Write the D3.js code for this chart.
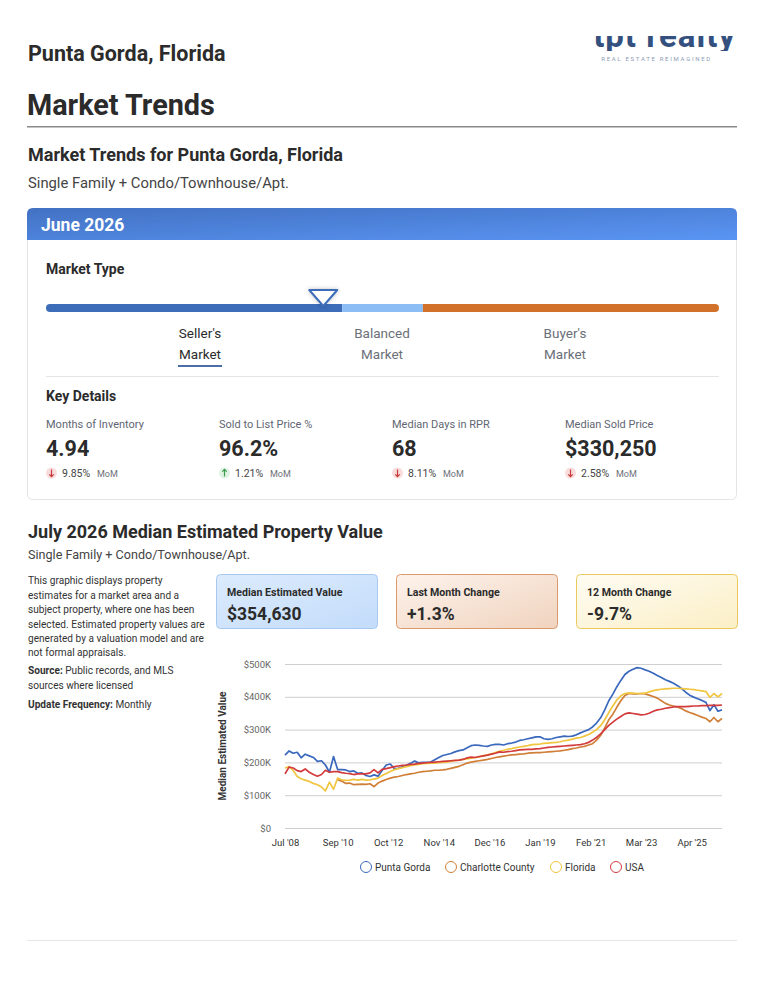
<!DOCTYPE html>
<html>
<head>
<meta charset="utf-8">
<script src="https://cdn.jsdelivr.net/npm/d3@7"></script>
<style>
  html, body { margin: 0; padding: 0; background: #fff; }
  svg { display: block; font-family: Roboto, "Noto Sans", sans-serif; }
</style>
</head>
<body>
<svg id="page" width="765" height="990"></svg>
<script>
// values in $K, one point every second month, Jul 2008 .. Jul 2026
const startMonth = new Date(2008, 6, 1);
const stepMonths = 2;

const puntaGorda = [
  222, 235, 228, 231, 214, 225, 220, 215, 203, 205, 192, 170, 218, 178, 178, 177, 172, 174, 167,
  168, 160, 157, 162, 158, 175, 192, 195, 181, 182, 187, 191, 197, 204, 199, 200, 200, 201,
  208, 215, 221, 224, 227, 232, 236, 238, 245, 251, 253, 252, 250, 249, 253, 255, 255, 253,
  257, 259, 262, 267, 269, 272, 275, 278, 278, 272, 270, 272, 276, 278, 280, 279, 280, 284,
  290, 295, 300, 308, 320, 336, 360, 388, 408, 430, 450, 468, 478, 484, 489, 487, 482, 478,
  472, 465, 459, 452, 447, 441, 434, 425, 414, 405, 399, 394, 389, 383, 358, 376, 356, 360
];
const charlotteCounty = [
  null, null, null, null, null, null, null, null, null, null, null, null, null,
  147, 143, 136, 137, 132, 133, 134, 133, 135, 126, 137, 143, 148, 152, 155, 157, 160, 163,
  165, 167, 170, 172, 173, 174,
  176, 176, 177, 179, 182, 185, 188, 193, 198, 201, 203, 205, 207, 209, 212, 215, 217, 219,
  221, 223, 224, 225, 226, 228, 229, 230, 230, 231, 232, 233, 234, 235, 237, 239, 242, 244,
  247, 249, 253, 257, 268, 282, 305, 330, 347, 368, 388, 404, 410, 409, 409, 410, 409, 405,
  401, 396, 388, 380, 375, 372, 369, 364, 357, 352, 348, 343, 338, 334, 324, 337, 324, 334
];
const florida = [
  183, 187, 175, 157, 150, 146, 142, 136, 132, 125, 113, 140, 118, 152, 147, 145, 146, 148, 146,
  148, 146, 147, 149, 152, 160, 166, 172, 178, 181, 184, 187, 190, 192, 194, 196, 197, 198,
  198, 199, 200, 201, 203, 205, 207, 209, 211, 213, 215, 217, 220, 223, 226, 230, 234, 237,
  240, 242, 245, 247, 249, 251, 254, 255, 256, 258, 259, 260, 261, 263, 266, 268, 271, 274,
  276, 280, 285, 292, 300, 312, 330, 352, 372, 390, 403, 410, 412, 411, 410, 410, 411, 415,
  419, 421, 423, 424, 425, 426, 426, 425, 424, 423, 422, 420, 418, 416, 398, 410, 400, 410
];
const usa = [
  165, 186, 183, 175, 172, 180, 170, 163, 158, 163, 176, 170, 172, 172, 169, 167, 166, 163, 165,
  165, 165, 168, 178, 168, 179, 181, 184, 187, 189, 191, 192, 194, 195, 197, 198, 199, 200,
  201, 202, 203, 204, 205, 206, 207, 209, 214, 216, 215, 218, 220, 222, 225, 228, 232, 231,
  233, 234, 236, 238, 239, 240, 240, 241, 242, 244, 246, 247, 248, 249, 250, 251, 252, 253,
  254, 257, 261, 268, 276, 287, 300, 313, 323, 332, 340, 348, 351, 349, 347, 345, 346, 350,
  356, 360, 362, 365, 367, 369, 370, 370, 370, 371, 372, 372, 373, 373, 374, 374, 374, 375
];

const seriesNames = ['Punta Gorda', 'Charlotte County', 'Florida', 'USA'];
const seriesColors = ['#3a68bd', '#d07f38', '#f0c540', '#d23a3b'];
const seriesValues = [puntaGorda, charlotteCounty, florida, usa];

const xTickDates = [
  new Date(2008, 6, 1), new Date(2010, 8, 1), new Date(2012, 9, 1), new Date(2014, 10, 1),
  new Date(2016, 11, 1), new Date(2019, 0, 1), new Date(2021, 1, 1), new Date(2023, 2, 1),
  new Date(2025, 3, 1)
];
const yTicks = [0, 100, 200, 300, 400, 500];

const marketLabels = [["Seller's", 'Market'], ['Balanced', 'Market'], ["Buyer's", 'Market']];
const marketStops = [0, 0.44, 0.56, 1];
const marketColors = ['#3d6cb9', '#8dbdf5', '#d2722a'];
const marketPosition = 0.412;

const keyLabels = ['Months of Inventory', 'Sold to List Price %', 'Median Days in RPR', 'Median Sold Price'];
const keyValues = ['4.94', '96.2%', '68', '$330,250'];
const keyChanges = ['9.85%', '1.21%', '8.11%', '2.58%'];
const keyUp = [false, true, false, false];

const cardLabels = ['Median Estimated Value', 'Last Month Change', '12 Month Change'];
const cardValues = ['$354,630', '+1.3%', '-9.7%'];

const svg = d3.select('#page');
const defs = svg.append('defs');

function grad(id, c0, c1) {
  const g = defs.append('linearGradient').attr('id', id)
    .attr('x1', '0%').attr('y1', '0%').attr('x2', '100%').attr('y2', '100%');
  g.append('stop').attr('offset', '0%').attr('stop-color', c0);
  g.append('stop').attr('offset', '100%').attr('stop-color', c1);
}
grad('hdr', '#4271c2', '#5a95f4');
grad('card0', '#dcebfd', '#c3dcfb');
grad('card1', '#fdf3ec', '#f0d3be');
grad('card2', '#fffcf3', '#fbefc6');
defs.append('filter').attr('id', 'shadow').attr('x', '-50%').attr('y', '-50%').attr('width', '200%').attr('height', '200%')
  .append('feDropShadow').attr('dx', 0).attr('dy', 0).attr('stdDeviation', 2).attr('flood-color', '#000').attr('flood-opacity', 0.25);
defs.append('clipPath').attr('id', 'logoClip')
  .append('rect').attr('x', 570).attr('y', 36).attr('width', 180).attr('height', 15);

svg.append('rect').attr('width', 765).attr('height', 990).attr('fill', '#fff');

// header
svg.append('text').attr('x', 28).attr('y', 61).attr('font-size', 21.5).attr('font-weight', 700)
  .attr('fill', '#2b2b2b').text('Punta Gorda, Florida');

const logo = svg.append('g').attr('clip-path', 'url(#logoClip)');
logo.append('text').attr('x', 736).attr('y', 46.5).attr('text-anchor', 'end')
  .attr('font-size', 33).attr('font-weight', 700).attr('fill', '#34507f').attr('letter-spacing', 1)
  .text('tpt realty');
svg.append('text').attr('x', 712).attr('y', 61).attr('text-anchor', 'end')
  .attr('font-size', 6).attr('fill', '#8d9db5').attr('letter-spacing', 1.7)
  .text('REAL ESTATE REIMAGINED');

svg.append('text').attr('x', 27).attr('y', 115).attr('font-size', 28.8).attr('font-weight', 700)
  .attr('fill', '#2b2b2b').text('Market Trends');
svg.append('rect').attr('x', 27).attr('y', 126).attr('width', 710).attr('height', 1.5).attr('fill', '#8a8a8a');

svg.append('text').attr('x', 28).attr('y', 161).attr('font-size', 18).attr('font-weight', 700)
  .attr('fill', '#2b2b2b').text('Market Trends for Punta Gorda, Florida');
svg.append('text').attr('x', 28).attr('y', 188).attr('font-size', 14.8).attr('fill', '#444')
  .text('Single Family + Condo/Townhouse/Apt.');

// market card
svg.append('rect').attr('x', 27.5).attr('y', 208.5).attr('width', 709).attr('height', 291).attr('rx', 5)
  .attr('fill', '#fff').attr('stroke', '#e4e4e4');
svg.append('path')
  .attr('d', 'M27,240 V214 Q27,208 33,208 H731 Q737,208 737,214 V240 Z')
  .attr('fill', 'url(#hdr)');
svg.append('text').attr('x', 41).attr('y', 230.5).attr('font-size', 17.5).attr('font-weight', 700)
  .attr('fill', '#fff').text('June 2026');

svg.append('text').attr('x', 46).attr('y', 274).attr('font-size', 14).attr('font-weight', 700)
  .attr('fill', '#2b2b2b').text('Market Type');

const barX = d3.scaleLinear().domain([0, 1]).range([46, 719]);
const barY = 308, barH = 8;
defs.append('clipPath').attr('id', 'barClip')
  .append('rect').attr('x', barX(0)).attr('y', barY - barH / 2).attr('width', barX(1) - barX(0))
  .attr('height', barH).attr('rx', barH / 2);
svg.append('g').attr('clip-path', 'url(#barClip)')
  .selectAll('rect').data(marketColors).join('rect')
  .attr('x', (d, i) => barX(marketStops[i]))
  .attr('width', (d, i) => barX(marketStops[i + 1]) - barX(marketStops[i]))
  .attr('y', barY - barH / 2).attr('height', barH).attr('fill', d => d);

const mx = barX(marketPosition);
svg.append('path')
  .attr('d', `M${mx - 14},${290} L${mx + 14},${290} L${mx},${306} Z`)
  .attr('fill', '#fff').attr('stroke', '#3d6cb9').attr('stroke-width', 2)
  .attr('stroke-linejoin', 'round').attr('filter', 'url(#shadow)');

const labelX = [200, 382, 565];
marketLabels.forEach((lines, i) => {
  lines.forEach((t, j) => {
    svg.append('text').attr('x', labelX[i]).attr('y', 338 + j * 21).attr('text-anchor', 'middle')
      .attr('font-size', 13.5).attr('fill', i === 0 ? '#2b2b2b' : '#6b6f78').text(t);
  });
});
svg.append('rect').attr('x', 178).attr('y', 365).attr('width', 44).attr('height', 2).attr('fill', '#4b6ea8');
svg.append('rect').attr('x', 46).attr('y', 376).attr('width', 673).attr('height', 1).attr('fill', '#e6e6e6');

svg.append('text').attr('x', 46).attr('y', 401).attr('font-size', 14).attr('font-weight', 700)
  .attr('fill', '#2b2b2b').text('Key Details');

const keyX = [46, 219, 392, 565];
keyLabels.forEach((lab, i) => {
  const g = svg.append('g').attr('transform', `translate(${keyX[i]},0)`);
  g.append('text').attr('y', 428).attr('font-size', 11).attr('fill', '#5f6673').text(lab);
  g.append('text').attr('y', 456).attr('font-size', 21.5).attr('font-weight', 700).attr('fill', '#2b2b2b').text(keyValues[i]);
  const up = keyUp[i];
  g.append('circle').attr('cx', 5.5).attr('cy', 473).attr('r', 5.5).attr('fill', up ? '#dff3e3' : '#f9dcdc');
  g.append('path')
    .attr('d', up ? 'M5.5,476.5 V469.5 M3.3,471.7 L5.5,469.3 L7.7,471.7' : 'M5.5,469.5 V476.5 M3.3,474.3 L5.5,476.7 L7.7,474.3')
    .attr('stroke', up ? '#3d9a52' : '#c8393a').attr('stroke-width', 1.2).attr('fill', 'none');
  g.append('text').attr('x', 16).attr('y', 477).attr('font-size', 10.5).attr('fill', '#444').text(keyChanges[i]);
  g.append('text').attr('x', 16 + keyChanges[i].length * 6 + 5).attr('y', 477).attr('font-size', 9)
    .attr('fill', '#6b6f78').text('MoM');
});

// estimated value section
svg.append('text').attr('x', 28).attr('y', 538).attr('font-size', 18).attr('font-weight', 700)
  .attr('fill', '#2b2b2b').text('July 2026 Median Estimated Property Value');
svg.append('text').attr('x', 28).attr('y', 559).attr('font-size', 12.6).attr('fill', '#444')
  .text('Single Family + Condo/Townhouse/Apt.');

const descLines = [
  ['', 'This graphic displays property'],
  ['', 'estimates for a market area and a'],
  ['', 'subject property, where one has been'],
  ['', 'selected. Estimated property values are'],
  ['', 'generated by a valuation model and are'],
  ['', 'not formal appraisals.'],
  ['Source:', ' Public records, and MLS'],
  ['', 'sources where licensed'],
  ['Update Frequency:', ' Monthly']
];
const descY = [584, 598.5, 612.5, 627.5, 641.5, 655.5, 673.5, 688.5, 707.5];
descLines.forEach((l, i) => {
  const t = svg.append('text').attr('x', 28).attr('y', descY[i]).attr('font-size', 10.1).attr('fill', '#333');
  if (l[0]) t.append('tspan').attr('font-weight', 700).text(l[0]);
  t.append('tspan').text(l[1]);
});

const cardX = [216, 396, 576];
const cardStroke = ['#a7c9f0', '#dc9a6c', '#ecc95e'];
cardLabels.forEach((lab, i) => {
  const g = svg.append('g').attr('transform', `translate(${cardX[i]},574)`);
  g.append('rect').attr('x', 0.5).attr('y', 0.5).attr('width', 161).attr('height', 54).attr('rx', 4)
    .attr('fill', `url(#card${i})`).attr('stroke', cardStroke[i]);
  g.append('text').attr('x', 11).attr('y', 21.5).attr('font-size', 10.6).attr('font-weight', 700)
    .attr('fill', '#2b2b2b').text(lab);
  g.append('text').attr('x', 11).attr('y', 45.5).attr('font-size', 17.5).attr('font-weight', 700)
    .attr('fill', '#2b2b2b').text(cardValues[i]);
});

// line chart
const months = puntaGorda.map((d, i) => d3.timeMonth.offset(startMonth, i * stepMonths));
const x = d3.scaleTime().domain([months[0], months[months.length - 1]]).range([285, 722]);
const y = d3.scaleLinear().domain([0, 500]).range([828, 664]);

const yAxis = svg.append('g').attr('transform', 'translate(285,0)')
  .call(d3.axisLeft(y).tickValues(yTicks).tickSize(-437).tickPadding(14)
    .tickFormat(d => d === 0 ? '$0' : `$${d}K`));
yAxis.select('.domain').remove();
yAxis.selectAll('.tick line').attr('stroke', '#cfcfcf');
yAxis.selectAll('.tick text').attr('font-size', 9.5).attr('fill', '#666').attr('font-family', 'Roboto');

const xAxis = svg.append('g').attr('transform', 'translate(0,828)')
  .call(d3.axisBottom(x).tickValues(xTickDates).tickSize(0).tickPadding(11)
    .tickFormat(d3.timeFormat("%b '%y")));
xAxis.select('.domain').remove();
xAxis.selectAll('.tick text').attr('font-size', 9.5).attr('fill', '#333').attr('font-family', 'Roboto');

svg.append('text').attr('transform', 'translate(226,746) rotate(-90)').attr('text-anchor', 'middle')
  .attr('font-size', 10).attr('font-weight', 700).attr('fill', '#333').text('Median Estimated Value');

const line = d3.line()
  .defined(d => d != null)
  .x((d, i) => x(months[i]))
  .y(d => y(d));
svg.append('g').selectAll('path').data(seriesValues).join('path')
  .attr('d', line).attr('fill', 'none')
  .attr('stroke', (d, i) => seriesColors[i]).attr('stroke-width', 1.7)
  .attr('stroke-linejoin', 'round');

// legend
const legendX = [366, 451, 556, 616];
const legend = svg.append('g').selectAll('g').data(seriesNames).join('g')
  .attr('transform', (d, i) => `translate(${legendX[i]},867)`);
legend.append('circle').attr('r', 5.5).attr('fill', 'none').attr('stroke-width', 1)
  .attr('stroke', (d, i) => seriesColors[i]);
legend.append('text').attr('x', 9).attr('y', 3.5).attr('font-size', 10).attr('fill', '#333').text(d => d);

svg.append('rect').attr('x', 27).attr('y', 940).attr('width', 710).attr('height', 1).attr('fill', '#e6e6e6');
</script>
</body>
</html>
